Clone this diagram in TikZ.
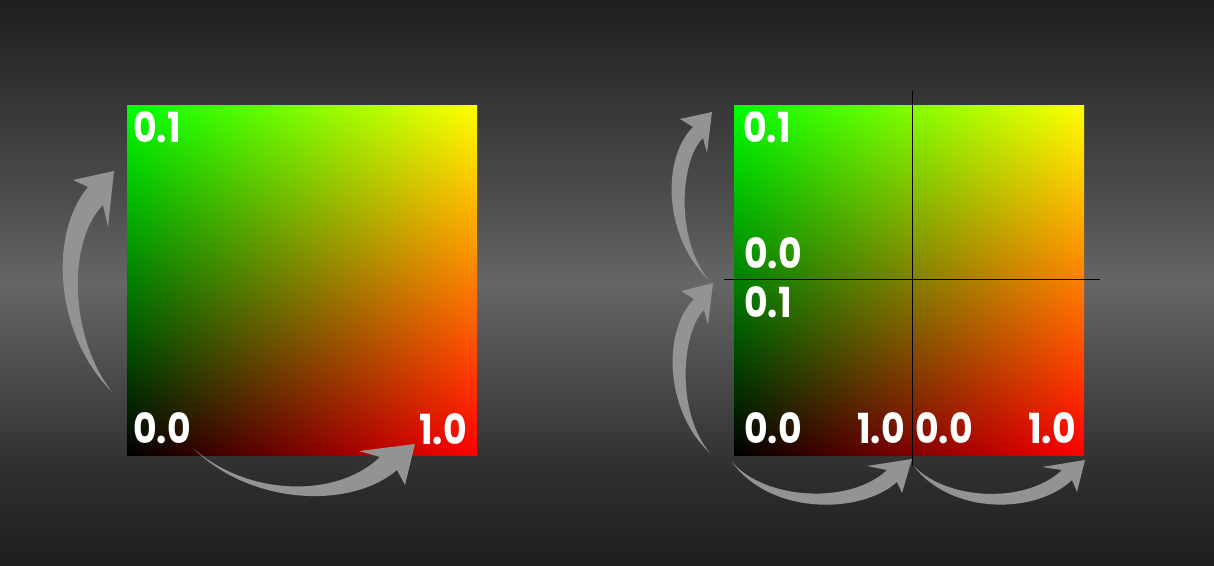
\documentclass[tikz,border=0pt]{standalone}
\usepackage{fontspec}
\setmainfont{Poppins}
\pgfdeclarefunctionalshading{uvmap}{\pgfpoint{0bp}{0bp}}{\pgfpoint{100bp}{100bp}}{}{25 sub 50 div exch 25 sub 50 div exch 0}
\definecolor{bgA}{HTML}{1E1E1E}
\definecolor{bgB}{HTML}{363636}
\definecolor{bgC}{HTML}{4E4E4E}
\definecolor{bgD}{HTML}{666666}
\definecolor{bgE}{HTML}{484848}
\definecolor{bgF}{HTML}{2E2E2E}
\pgfdeclareverticalshading{bgshade}{100bp}{color(0bp)=(bgA); color(25bp)=(bgA); color(33bp)=(bgF); color(41bp)=(bgE); color(50bp)=(bgD); color(57bp)=(bgC); color(66bp)=(bgB); color(75bp)=(bgA); color(100bp)=(bgA)}
\definecolor{arrowgray}{RGB}{147,147,147}
\newcommand{\tallnum}[1]{\scalebox{0.98}[1.12]{#1}}
\tikzset{
  lbl/.style={text=white, font=\fontsize{37}{37}\selectfont\bfseries, inner sep=0pt},
  curvarrow/.style={fill=arrowgray, draw=none},
  guide/.style={draw=black, line width=0.9pt}
}
\begin{document}
\begin{tikzpicture}[x=1pt,y=-1pt]
\useasboundingbox (0,0) rectangle (1214,565);
\fill[shading=bgshade] (0,0) rectangle (1214,565);
% squares
\path[shading=uvmap] (127,105) rectangle (477,455);
\path[shading=uvmap] (734,105) rectangle (1084,455);
\node[draw=none, inner sep=0pt, minimum size=350pt] (sqL) at (302,280) {};
\node[draw=none, inner sep=0pt, minimum size=350pt] (sqR) at (909,280) {};
% left labels
\node[lbl, anchor=base west] (l01) at (133,142) {\tallnum{0.1}};
\node[lbl, anchor=base west] (l00) at (133,443) {\tallnum{0.0}};
\node[lbl, anchor=base east] (l10) at (467,444) {\tallnum{1.0}};
% right labels
\node[lbl, anchor=base west] (r01a) at (743,142) {\tallnum{0.1}};
\node[lbl, anchor=base west] (r00a) at (744,268) {\tallnum{0.0}};
\node[lbl, anchor=base west] (r01b) at (744,317) {\tallnum{0.1}};
\node[lbl, anchor=base west] (r00b) at (744,443) {\tallnum{0.0}};
\node[lbl, anchor=base east] (r10a) at (905,443) {\tallnum{1.0}};
\node[lbl, anchor=base west] (r00c) at (915,443) {\tallnum{0.0}};
\node[lbl, anchor=base east] (r10b) at (1076,443) {\tallnum{1.0}};
% guide lines
\coordinate (vt) at (912,91);
\coordinate (vb) at (912,466);
\coordinate (hl) at (724,279);
\coordinate (hr) at (1100,279);
\draw[guide] (vt) -- (vb);
\draw[guide] (hl) -- (hr);
% arrows left square
\fill[curvarrow] (112,392) .. controls (55,335) and (48,235) .. (88,187) -- (73,180) -- (114,171) -- (108,227) -- (103,205) .. controls (68,240) and (68,335) .. (112,392) -- cycle;
\fill[curvarrow] (193,448) .. controls (245,495) and (335,500) .. (380,457) -- (359,451) -- (415,444) -- (405,485) -- (397,470) .. controls (350,510) and (250,505) .. (193,448) -- cycle;
% arrows right square
\fill[curvarrow] (709,280) .. controls (665,240) and (660,160) .. (693,127) -- (680,119) -- (712,112) -- (707,153) -- (703,138) .. controls (680,160) and (675,240) .. (709,280) -- cycle;
\fill[curvarrow] (710,453) .. controls (666,413) and (661,333) .. (694,299) -- (681,291) -- (713,283) -- (708,325) -- (704,310) .. controls (681,333) and (676,413) .. (710,453) -- cycle;
\fill[curvarrow] (732,462) .. controls (765,500) and (850,505) .. (887,470) -- (867,466) -- (912,459) -- (902,493) -- (897,482) .. controls (860,515) and (770,515) .. (732,462) -- cycle;
\fill[curvarrow] (913,465) .. controls (945,500) and (1025,505) .. (1062,470) -- (1042,467) -- (1085,460) -- (1077,492) -- (1072,480) .. controls (1035,515) and (950,515) .. (913,465) -- cycle;
\end{tikzpicture}
\end{document}
